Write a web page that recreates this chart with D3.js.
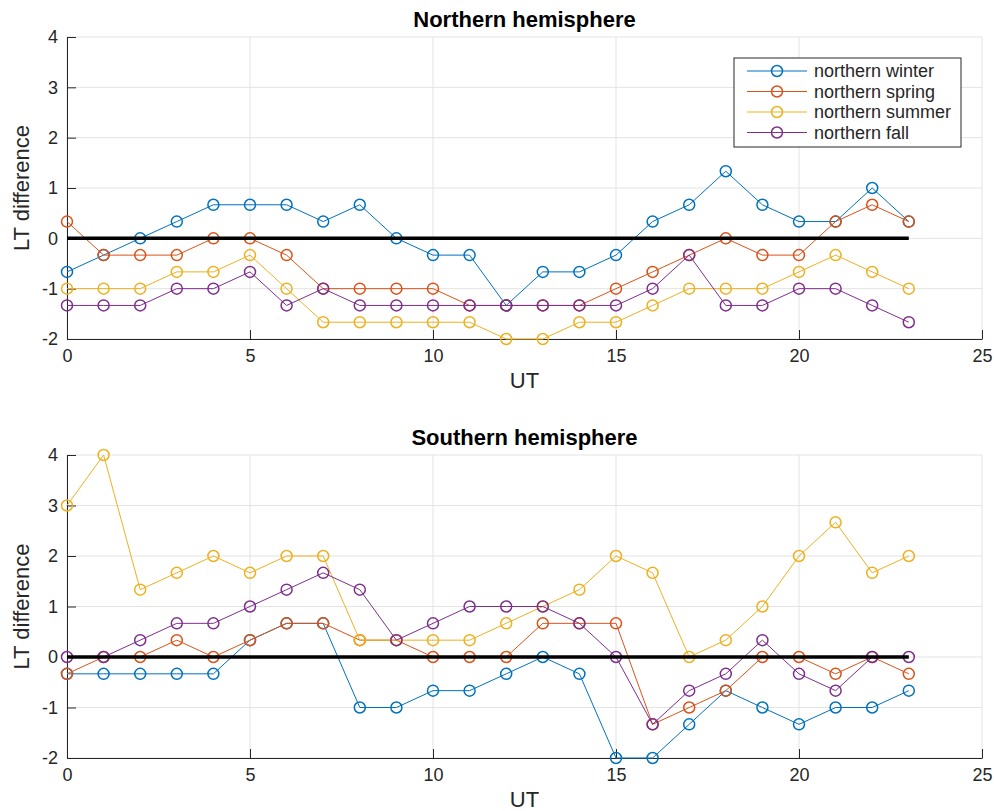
<!DOCTYPE html>
<html lang="en">
<head>
<meta charset="utf-8">
<title>LT difference vs UT</title>
<style>
  body { margin: 0; background: #fff; }
  svg text { font-family: "Liberation Sans", Arial, Helvetica, sans-serif; fill: #262626; }
  .title { font-weight: bold; fill: #000; }
</style>
<script src="https://cdn.jsdelivr.net/npm/d3@7"></script>
</head>
<body>
<div id="chart"></div>
<script>
// hours UT 0..23
var ut = d3.range(0, 24);

// northern hemisphere, LT difference (hours)
var nWinter = [-2/3, -1/3, 0, 1/3, 2/3, 2/3, 2/3, 1/3, 2/3, 0, -1/3, -1/3, -4/3, -2/3, -2/3, -1/3, 1/3, 2/3, 4/3, 2/3, 1/3, 1/3, 1, 1/3];
var nSpring = [1/3, -1/3, -1/3, -1/3, 0, 0, -1/3, -1, -1, -1, -1, -4/3, -4/3, -4/3, -4/3, -1, -2/3, -1/3, 0, -1/3, -1/3, 1/3, 2/3, 1/3];
var nSummer = [-1, -1, -1, -2/3, -2/3, -1/3, -1, -5/3, -5/3, -5/3, -5/3, -5/3, -2, -2, -5/3, -5/3, -4/3, -1, -1, -1, -2/3, -1/3, -2/3, -1];
var nFall   = [-4/3, -4/3, -4/3, -1, -1, -2/3, -4/3, -1, -4/3, -4/3, -4/3, -4/3, -4/3, -4/3, -4/3, -4/3, -1, -1/3, -4/3, -4/3, -1, -1, -4/3, -5/3];

// southern hemisphere
var sWinter = [-1/3, -1/3, -1/3, -1/3, -1/3, 1/3, 2/3, 2/3, -1, -1, -2/3, -2/3, -1/3, 0, -1/3, -2, -2, -4/3, -2/3, -1, -4/3, -1, -1, -2/3];
var sSpring = [-1/3, 0, 0, 1/3, 0, 1/3, 2/3, 2/3, 1/3, 1/3, 0, 0, 0, 2/3, 2/3, 2/3, -4/3, -1, -2/3, 0, 0, -1/3, 0, -1/3];
var sSummer = [3, 4, 4/3, 5/3, 2, 5/3, 2, 2, 1/3, 1/3, 1/3, 1/3, 2/3, 1, 4/3, 2, 5/3, 0, 1/3, 1, 2, 8/3, 5/3, 2];
var sFall   = [0, 0, 1/3, 2/3, 2/3, 1, 4/3, 5/3, 4/3, 1/3, 2/3, 1, 1, 1, 2/3, 0, -4/3, -2/3, -1/3, 1/3, -1/3, -2/3, 0, 0];

var seriesNames = ["northern winter", "northern spring", "northern summer", "northern fall"];
var colors = ["#0072BD", "#D95319", "#EDB120", "#7E2F8E"];
var xTicks = [0, 5, 10, 15, 20, 25];
var yTicks = [-2, -1, 0, 1, 2, 3, 4];

var W = 994, H = 811;
var svg = d3.select("#chart").append("svg").attr("width", W).attr("height", H);
var fmt = function (d) { return String(d); }; // plain hyphen minus, like the original

function panel(top, bottom, title, data, withLegend) {
    var x = d3.scaleLinear().domain([0, 25]).range([67, 982]);
    var y = d3.scaleLinear().domain([-2, 4]).range([bottom, top]);
    var g = svg.append("g");

    // grid
    g.append("g").selectAll("line").data(xTicks).enter().append("line")
        .attr("x1", d => x(d)).attr("x2", d => x(d))
        .attr("y1", y(-2)).attr("y2", y(4))
        .attr("stroke", "#e3e3e3").attr("stroke-width", 1);
    g.append("g").selectAll("line").data(yTicks).enter().append("line")
        .attr("x1", x(0)).attr("x2", x(25))
        .attr("y1", d => y(d)).attr("y2", d => y(d))
        .attr("stroke", "#e3e3e3").attr("stroke-width", 1);

    // axes (ticks pointing inward)
    var ax = g.append("g").attr("transform", "translate(0," + y(-2) + ")")
        .call(d3.axisBottom(x).tickValues(xTicks).tickFormat(fmt).tickSize(-9).tickPadding(10).tickSizeOuter(0));
    var ay = g.append("g").attr("transform", "translate(" + x(0) + ",0)")
        .call(d3.axisLeft(y).tickValues(yTicks).tickFormat(fmt).tickSize(-9).tickPadding(9).tickSizeOuter(0));
    [ax, ay].forEach(function (a) {
        a.selectAll("path, line").attr("stroke", "#262626");
        a.selectAll("text").style("font-size", "18px").attr("fill", "#262626");
    });

    var line = d3.line().x((d, i) => x(ut[i])).y(d => y(d));
    data.forEach(function (s, k) {
        var sg = g.append("g");
        sg.append("path").datum(s).attr("d", line)
            .attr("fill", "none").attr("stroke", colors[k]).attr("stroke-width", 1);
        sg.selectAll("circle").data(s).enter().append("circle")
            .attr("cx", (d, i) => x(ut[i])).attr("cy", d => y(d)).attr("r", 5.5)
            .attr("fill", "none").attr("stroke", colors[k]).attr("stroke-width", 1.5);
    });

    // zero reference
    g.append("line").attr("x1", x(0)).attr("x2", x(23))
        .attr("y1", y(0)).attr("y2", y(0))
        .attr("stroke", "#000").attr("stroke-width", 3.5);

    g.append("text").attr("class", "title").attr("x", (x(0) + x(25)) / 2).attr("y", top - 10)
        .attr("text-anchor", "middle").style("font-size", "22px").text(title);
    g.append("text").attr("x", (x(0) + x(25)) / 2).attr("y", bottom + 49)
        .attr("text-anchor", "middle").style("font-size", "22px").text("UT");
    g.append("text").attr("transform", "translate(29," + (top + bottom) / 2 + ") rotate(-90)")
        .attr("text-anchor", "middle").style("font-size", "22px").text("LT difference");

    if (withLegend) {
        var lg = g.append("g").attr("transform", "translate(734,58)");
        lg.append("rect").attr("width", 227).attr("height", 89)
            .attr("fill", "#fff").attr("stroke", "#262626").attr("stroke-width", 1);
        seriesNames.forEach(function (n, k) {
            var yy = 13 + k * 20.5;
            lg.append("line").attr("x1", 13).attr("x2", 73).attr("y1", yy).attr("y2", yy)
                .attr("stroke", colors[k]).attr("stroke-width", 1);
            lg.append("circle").attr("cx", 43).attr("cy", yy).attr("r", 5.5)
                .attr("fill", "none").attr("stroke", colors[k]).attr("stroke-width", 1.5);
            lg.append("text").attr("x", 80).attr("y", yy).attr("dy", "0.35em")
                .style("font-size", "18px").attr("fill", "#000").text(n);
        });
    }
}

panel(37, 339, "Northern hemisphere", [nWinter, nSpring, nSummer, nFall], true);
panel(455, 758, "Southern hemisphere", [sWinter, sSpring, sSummer, sFall], false);
</script>
</body>
</html>
